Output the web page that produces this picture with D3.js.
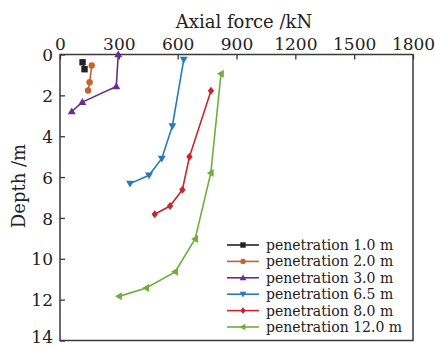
<!DOCTYPE html>
<html><head><meta charset="utf-8">
<script src="https://cdn.jsdelivr.net/npm/d3@7"></script>
<style>body{margin:0;background:#fff;}</style>
</head><body><svg id="c" width="435" height="346"></svg>
<script>
const seriesNames = ["penetration 1.0 m","penetration 2.0 m","penetration 3.0 m","penetration 6.5 m","penetration 8.0 m","penetration 12.0 m"];
const colors = ["#222222","#c4632f","#6a2d8f","#2a7ab9","#c9252f","#6fae3a"];
const markers = ["square","circle","up","down","diamond","left"];
const force1 = [115,125];            const depth1 = [0.38,0.72];
const force2 = [162,151,143];        const depth2 = [0.54,1.36,1.76];
const force3 = [297,287,114,60];     const depth3 = [0.0,1.56,2.33,2.79];
const force4 = [631,573,519,454,357];const depth4 = [0.25,3.5,5.09,5.91,6.32];
const force5 = [770,660,624,561,483];const depth5 = [1.77,5.01,6.62,7.42,7.82];
const force6 = [821,769,689,587,440,301]; const depth6 = [0.94,5.8,9.03,10.64,11.43,11.84];
const xTicks = [0,300,600,900,1200,1500,1800];
const yTicks = [0,2,4,6,8,10,12,14];

const forces=[force1,force2,force3,force4,force5,force6];
const depths=[depth1,depth2,depth3,depth4,depth5,depth6];

const svg=d3.select("#c");
const FF="DejaVu Serif";
const L=60,R=413,T=54.5,B=340.5;
const x=d3.scaleLinear().domain([0,1800]).range([L,R]);
const y=d3.scaleLinear().domain([0,14]).range([T,B]);
const axisColor="#3a3a3a";

svg.append("rect").attr("x",L).attr("y",T).attr("width",R-L).attr("height",B-T)
  .attr("fill","none").attr("stroke",axisColor).attr("stroke-width",1.5);

const xa=svg.append("g").attr("transform",`translate(0,${T})`)
  .call(d3.axisTop(x).tickValues(xTicks).tickFormat(d3.format("d")).tickSizeInner(-5).tickSizeOuter(0).tickPadding(5));
const ya=svg.append("g").attr("transform",`translate(${L},0)`)
  .call(d3.axisLeft(y).tickValues(yTicks).tickFormat(d3.format("d")).tickSizeInner(-5).tickSizeOuter(0).tickPadding(7));
[xa,ya].forEach(g=>{
  g.attr("font-family",FF).attr("font-size",17);
  g.select(".domain").remove();
  g.selectAll("line").attr("stroke",axisColor).attr("stroke-width",1.3);
  g.selectAll("text").attr("fill","#222");
});
ya.selectAll("text").attr("dy","0.36em");
ya.selectAll(".tick").filter(d=>d===14).select("text").attr("dy","0.1em");

svg.append("text").attr("x",244).attr("y",28).attr("text-anchor","middle").attr("font-family",FF)
  .attr("font-size",18).attr("fill","#222").text("Axial force /kN");
svg.append("text").attr("transform","translate(25,186) rotate(-90)").attr("text-anchor","middle").attr("font-family",FF)
  .attr("font-size",18).attr("fill","#222").text("Depth /m");

function marker(g,type,cx,cy,color,s){
  s=s||3.2;
  let p;
  if(type==="square") p=g.append("rect").attr("x",cx-s).attr("y",cy-s).attr("width",2*s).attr("height",2*s);
  else if(type==="circle") p=g.append("circle").attr("cx",cx).attr("cy",cy).attr("r",s);
  else {
    let pts;
    const a=s*1.25;
    if(type==="up") pts=[[cx,cy-a],[cx-a,cy+a*0.7],[cx+a,cy+a*0.7]];
    else if(type==="down") pts=[[cx,cy+a],[cx-a,cy-a*0.7],[cx+a,cy-a*0.7]];
    else if(type==="left") pts=[[cx-a,cy],[cx+a*0.7,cy-a],[cx+a*0.7,cy+a]];
    else pts=[[cx,cy-a],[cx+a*0.8,cy],[cx,cy+a],[cx-a*0.8,cy]];
    p=g.append("polygon").attr("points",pts.map(q=>q.join(",")).join(" "));
  }
  p.attr("fill",color);
}

const line=d3.line().x(d=>x(d[0])).y(d=>y(d[1]));
forces.forEach((f,i)=>{
  const pts=f.map((v,j)=>[v,depths[i][j]]);
  const g=svg.append("g");
  g.append("path").datum(pts).attr("d",line).attr("fill","none")
    .attr("stroke",colors[i]).attr("stroke-width",1.6);
  pts.forEach(p=>marker(g,markers[i],x(p[0]),y(p[1]),colors[i]));
});

const lg=svg.append("g");
seriesNames.forEach((n,i)=>{
  const yy=245+i*16.4;
  lg.append("line").attr("x1",227).attr("x2",259).attr("y1",yy).attr("y2",yy)
    .attr("stroke",colors[i]).attr("stroke-width",1.6);
  marker(lg,markers[i],243,yy,colors[i],2.7);
  lg.append("text").attr("x",266).attr("y",yy+5).attr("font-family",FF).attr("font-size",14).attr("fill","#222").text(n);
});
</script></body></html>
